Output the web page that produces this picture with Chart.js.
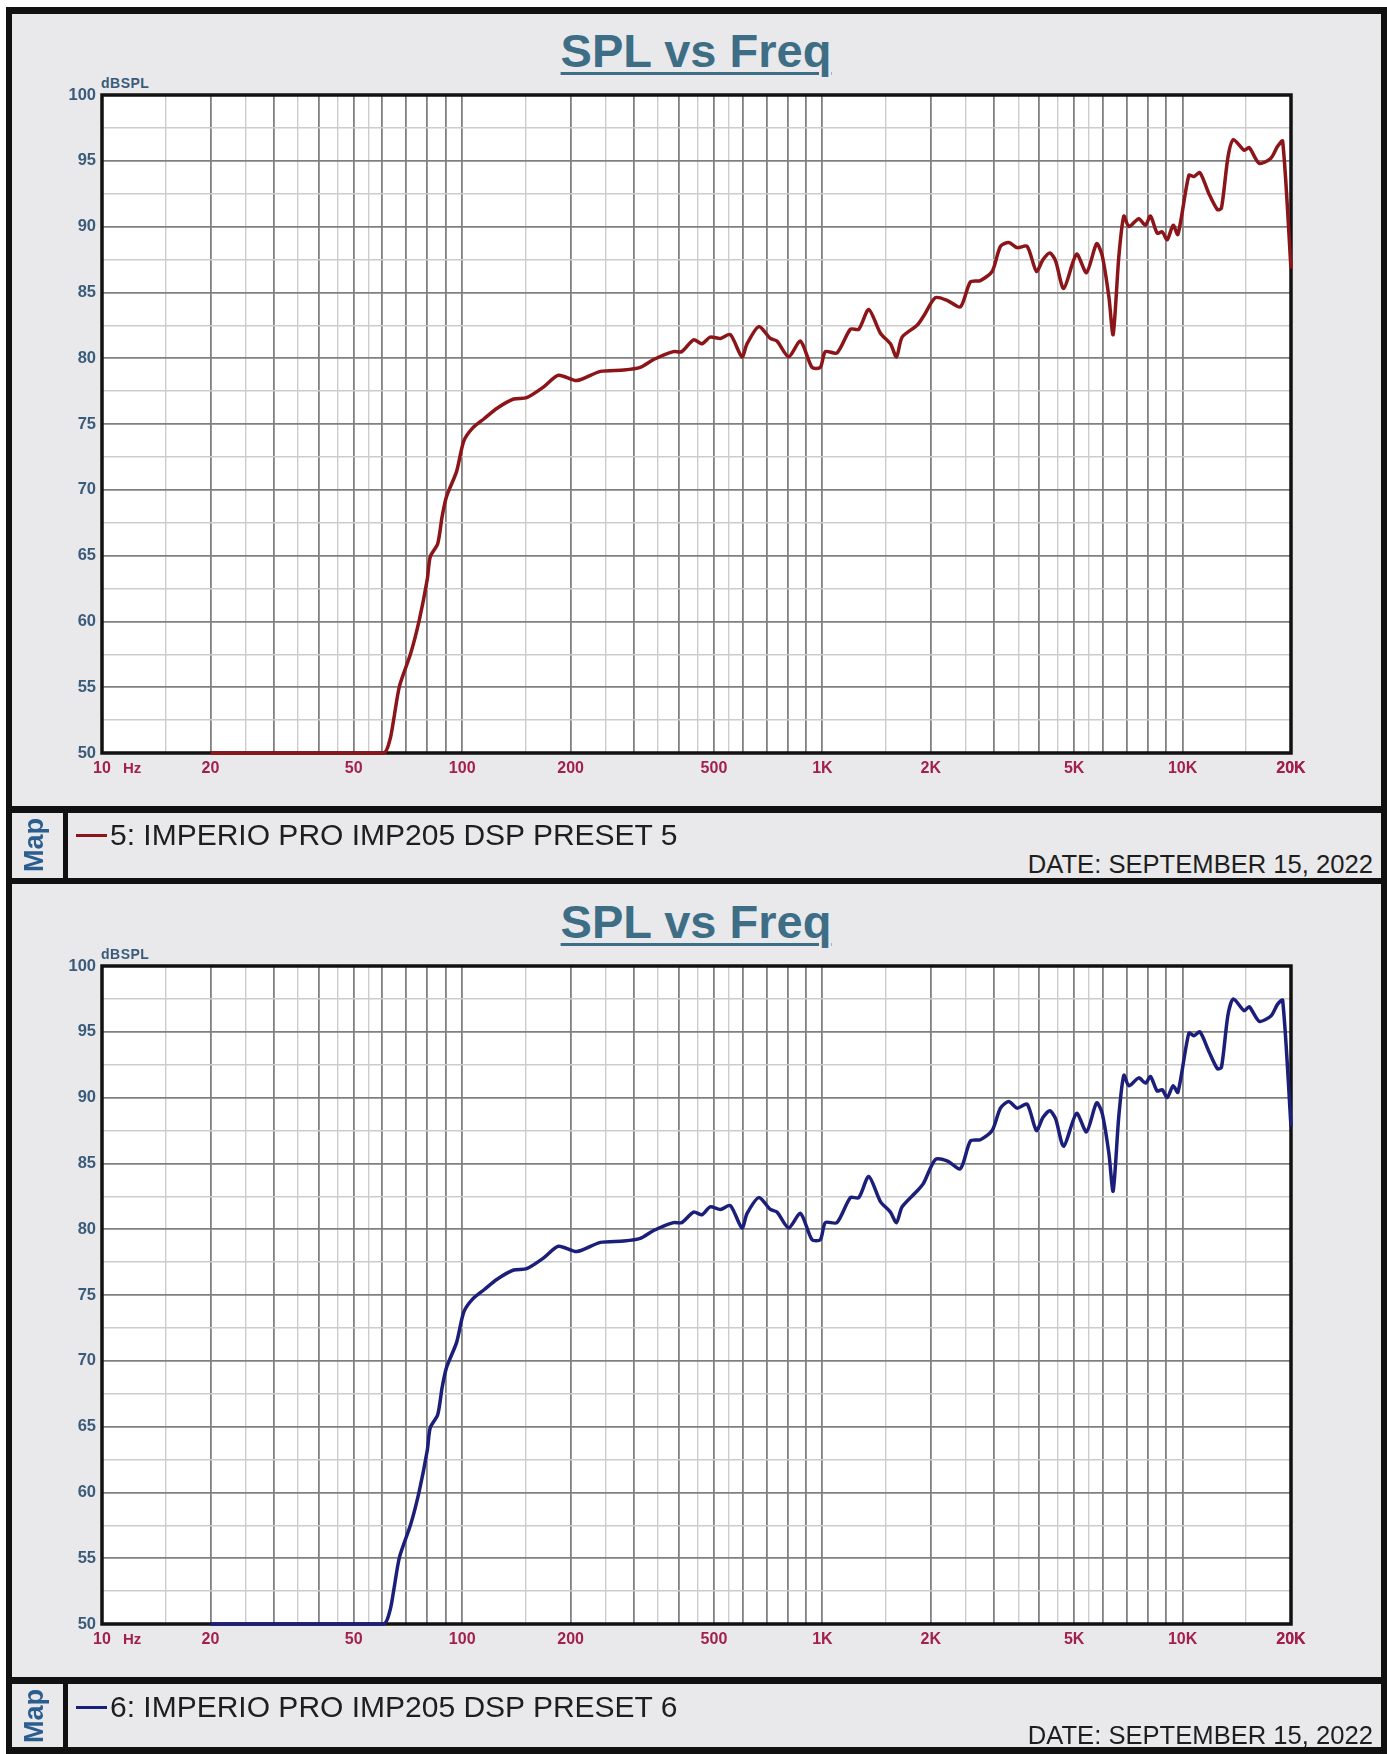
<!DOCTYPE html>
<html>
<head>
<meta charset="utf-8">
<title>SPL vs Freq</title>
<script src="https://cdn.jsdelivr.net/npm/chart.js@4.4.1/dist/chart.umd.min.js"></script>
<style>
  html, body { margin: 0; padding: 0; background: #fff; }
  body { width: 1387px; height: 1754px; position: relative; overflow: hidden;
         font-family: 'Liberation Sans', Arial, sans-serif; }
  .bg { position: absolute; left: 6px; top: 7px; width: 1381px; height: 1747px; background: #e9e9eb; }
  .bar { position: absolute; background: #111; }
  .title { position: absolute; left: 0; width: 1392px; text-align: center; font-weight: bold;
           font-size: 47px; line-height: 47px; color: #3e6d86; text-decoration: underline;
           text-decoration-thickness: 3px; text-underline-offset: 5px; }
  .unit { position: absolute; font-weight: bold; font-size: 14px; color: #3b5b7a; letter-spacing: 0.5px; }
  .hz { position: absolute; left: 123px; font-weight: bold; font-size: 15px; line-height: 18px; color: #a21f4e; }
  .map { position: absolute; width: 70px; height: 30px; line-height: 30px; text-align: center;
         font-weight: bold; font-size: 27px; color: #2b5d8e;
         transform: translate(-50%, -50%) rotate(-90deg); }
  .dash { position: absolute; left: 76px; width: 31px; height: 3px; }
  .legend { position: absolute; left: 110px; font-size: 30px; line-height: 30px; color: #1e1e1e; white-space: nowrap; }
  .date { position: absolute; right: 14px; font-size: 25.6px; line-height: 26px; color: #1e1e1e; white-space: nowrap; }
  canvas { position: absolute; left: 0; }
</style>
</head>
<body>
<div class="bg"></div>

<div class="title" style="top:27px">SPL vs Freq</div>
<div class="unit" style="left:101px; top:75px">dBSPL</div>
<canvas id="chart5" width="1380" height="789" style="top:17px"></canvas>
<div class="hz" style="top:759px">Hz</div>

<div class="title" style="top:898px">SPL vs Freq</div>
<div class="unit" style="left:101px; top:946px">dBSPL</div>
<canvas id="chart6" width="1380" height="789" style="top:888px"></canvas>
<div class="hz" style="top:1630px">Hz</div>

<!-- frame -->
<div class="bar" style="left:6px; top:7px; width:1381px; height:7px"></div>
<div class="bar" style="left:6px; top:7px; width:6px; height:1747px"></div>
<div class="bar" style="left:1381px; top:7px; width:6px; height:1747px"></div>
<div class="bar" style="left:6px; top:806px; width:1381px; height:7px"></div>
<div class="bar" style="left:6px; top:878px; width:1381px; height:6px"></div>
<div class="bar" style="left:6px; top:1677px; width:1381px; height:7px"></div>
<div class="bar" style="left:6px; top:1747px; width:1381px; height:7px"></div>
<div class="bar" style="left:63px; top:813px; width:5px; height:65px"></div>
<div class="bar" style="left:63px; top:1684px; width:5px; height:63px"></div>

<!-- map / legend rows -->
<div class="map" style="left:34px; top:845px">Map</div>
<div class="dash" style="top:834px; background:#8b1518"></div>
<div class="legend" style="top:820px">5: IMPERIO PRO IMP205 DSP PRESET 5</div>
<div class="date" style="top:851px">DATE: SEPTEMBER 15, 2022</div>

<div class="map" style="left:34px; top:1716px">Map</div>
<div class="dash" style="top:1706px; background:#1c1f7a"></div>
<div class="legend" style="top:1692px">6: IMPERIO PRO IMP205 DSP PRESET 6</div>
<div class="date" style="top:1722px">DATE: SEPTEMBER 15, 2022</div>

<script>
// frequency points (Hz) shared by both measurements
const freqHz = [
  20, 60.5, 63, 64.5, 67, 72, 76, 80, 81.5, 85.5, 88, 90.5, 96.5, 101, 107, 115, 125, 139, 151, 168,
  185, 208, 242, 281, 312, 340, 386, 407, 439, 463, 488, 521, 555, 598, 618, 666, 717, 748, 806, 869,
  936, 987, 1019, 1098, 1196, 1262, 1345, 1449, 1545, 1606, 1665, 1832, 1910, 2059, 2219, 2417, 2576, 2746, 2961, 3121,
  3291, 3472, 3702, 3929, 4100, 4280, 4440, 4677, 5078, 5412, 5771, 5982, 6241, 6415, 6653, 6870, 7095, 7557, 7888, 8144,
  8503, 8780, 9066, 9415, 9706, 10411, 10750, 11170, 11835, 12490, 12820, 13370, 13840, 14830, 15310, 16330, 17590, 18360, 18960, 20000
];

// dB SPL, preset 5 (top chart)
const splPreset5 = [
  50, 50, 51.0, 52.5, 55.1, 57.6, 60.1, 63.2, 64.9, 65.9, 68.0, 69.5, 71.4, 73.7, 74.7, 75.4, 76.2, 76.9, 77.0, 77.8,
  78.7, 78.3, 79.0, 79.1, 79.3, 79.9, 80.5, 80.5, 81.4, 81.1, 81.6, 81.5, 81.8, 80.1, 81.1, 82.4, 81.5, 81.3, 80.1, 81.3,
  79.3, 79.3, 80.5, 80.4, 82.2, 82.2, 83.7, 81.9, 81.1, 80.1, 81.6, 82.5, 83.2, 84.6, 84.4, 83.9, 85.8, 85.9, 86.6, 88.5,
  88.8, 88.4, 88.5, 86.6, 87.5, 88.0, 87.4, 85.3, 87.9, 86.5, 88.7, 87.8, 84.7, 81.8, 87.7, 90.8, 90.0, 90.6, 90.1, 90.8,
  89.5, 89.6, 89.0, 90.1, 89.4, 93.9, 93.8, 94.1, 92.5, 91.3, 91.4, 95.3, 96.6, 95.8, 96.0, 94.8, 95.2, 96.1, 96.5, 86.8
];

// dB SPL, preset 6 (bottom chart)
const splPreset6 = [
  50, 50, 51.0, 52.5, 55.1, 57.6, 60.1, 63.2, 64.9, 65.9, 68.0, 69.5, 71.4, 73.7, 74.7, 75.4, 76.2, 76.9, 77.0, 77.8,
  78.7, 78.3, 79.0, 79.1, 79.3, 79.9, 80.5, 80.5, 81.3, 81.1, 81.7, 81.5, 81.8, 80.1, 81.2, 82.4, 81.5, 81.3, 80.1, 81.2,
  79.2, 79.2, 80.5, 80.5, 82.4, 82.4, 84.0, 82.1, 81.3, 80.5, 81.7, 82.9, 83.5, 85.3, 85.2, 84.6, 86.7, 86.8, 87.5, 89.2,
  89.7, 89.2, 89.5, 87.5, 88.5, 89.0, 88.4, 86.3, 88.8, 87.4, 89.6, 88.8, 85.8, 82.9, 88.6, 91.7, 90.9, 91.5, 91.1, 91.6,
  90.5, 90.6, 90.0, 90.9, 90.4, 94.9, 94.7, 95.0, 93.5, 92.2, 92.3, 96.3, 97.5, 96.6, 96.9, 95.8, 96.2, 97.1, 97.4, 87.8
];

// axis ticks
const xLabelFreqs = [10, 20, 50, 100, 200, 500, 1000, 2000, 5000, 10000, 20000];
const xLabelText = ['10', '20', '50', '100', '200', '500', '1K', '2K', '5K', '10K', '20K'];
const gridDecades = [10, 100, 1000, 10000];
const gridMultipliers = [1, 1.5, 2, 2.5, 3, 3.5, 4, 4.5, 5, 5.5, 6, 7, 8, 9];

const FONT = "'Liberation Sans', Arial, sans-serif";
const GRID_DARK = '#808080';
const GRID_LIGHT = '#cccccc';

const gridFreqs = [];
gridDecades.forEach((d) => {
  gridMultipliers.forEach((m) => {
    const v = Math.round(d * m);
    if (v <= 20000) gridFreqs.push(v);
  });
});
gridFreqs.push(20000);

function isWholeMultiple(v) {
  const d = Math.pow(10, Math.floor(Math.log10(v) + 1e-9));
  const m = v / d;
  return Math.abs(m - Math.round(m)) < 1e-6;
}

const plotFrame = {
  id: 'plotFrame',
  beforeDraw(chart) {
    const { ctx, chartArea: a } = chart;
    ctx.save();
    ctx.fillStyle = '#ffffff';
    ctx.fillRect(a.left, a.top, a.right - a.left, a.bottom - a.top);
    ctx.restore();
  },
  beforeDatasetsDraw(chart) {
    const { ctx, chartArea: a } = chart;
    ctx.save();
    ctx.strokeStyle = '#111';
    ctx.lineWidth = 3.5;
    ctx.strokeRect(a.left, a.top, a.right - a.left, a.bottom - a.top);
    ctx.restore();
  },
};

function makeChart(canvasId, values, color) {
  const points = freqHz.map((f, i) => ({ x: f, y: values[i] }));
  return new Chart(document.getElementById(canvasId), {
    type: 'line',
    data: {
      datasets: [
        {
          data: points,
          borderColor: color,
          borderWidth: 3.5,
          pointRadius: 0,
          tension: 0.25,
          fill: false,
          clip: 6,
        },
      ],
    },
    options: {
      responsive: false,
      animation: false,
      devicePixelRatio: 1,
      layout: { padding: { top: 78, right: 89, bottom: 0, left: 0 } },
      plugins: { legend: { display: false }, tooltip: { enabled: false } },
      scales: {
        x: {
          type: 'logarithmic',
          min: 10,
          max: 20000,
          afterBuildTicks: (scale) => {
            scale.ticks = gridFreqs.map((v) => ({ value: v }));
          },
          afterFit: (scale) => {
            scale.height = 53;
          },
          ticks: {
            autoSkip: false,
            maxRotation: 0,
            minRotation: 0,
            padding: 6,
            color: '#a21f4e',
            font: { family: FONT, size: 16, weight: 'bold' },
            callback: (value) => {
              const i = xLabelFreqs.indexOf(Math.round(value));
              return i >= 0 ? xLabelText[i] : '';
            },
          },
          grid: {
            drawTicks: false,
            color: (c) => (c.tick && isWholeMultiple(c.tick.value) ? GRID_DARK : GRID_LIGHT),
            lineWidth: (c) => (c.tick && isWholeMultiple(c.tick.value) ? 1.8 : 1.4),
          },
          border: { display: false },
        },
        y: {
          type: 'linear',
          min: 50,
          max: 100,
          afterFit: (scale) => {
            scale.width = 102;
          },
          ticks: {
            stepSize: 2.5,
            autoSkip: false,
            padding: 6,
            color: '#3b5b7a',
            font: { family: FONT, size: 16.5, weight: 'bold' },
            callback: (value) => (value % 5 === 0 ? String(value) : ''),
          },
          grid: {
            drawTicks: false,
            color: (c) => (c.tick && c.tick.value % 5 === 0 ? GRID_DARK : GRID_LIGHT),
            lineWidth: (c) => (c.tick && c.tick.value % 5 === 0 ? 1.8 : 1.4),
          },
          border: { display: false },
        },
      },
    },
    plugins: [plotFrame],
  });
}

makeChart('chart5', splPreset5, '#8b1518');
makeChart('chart6', splPreset6, '#1c1f7a');
</script>
</body>
</html>
